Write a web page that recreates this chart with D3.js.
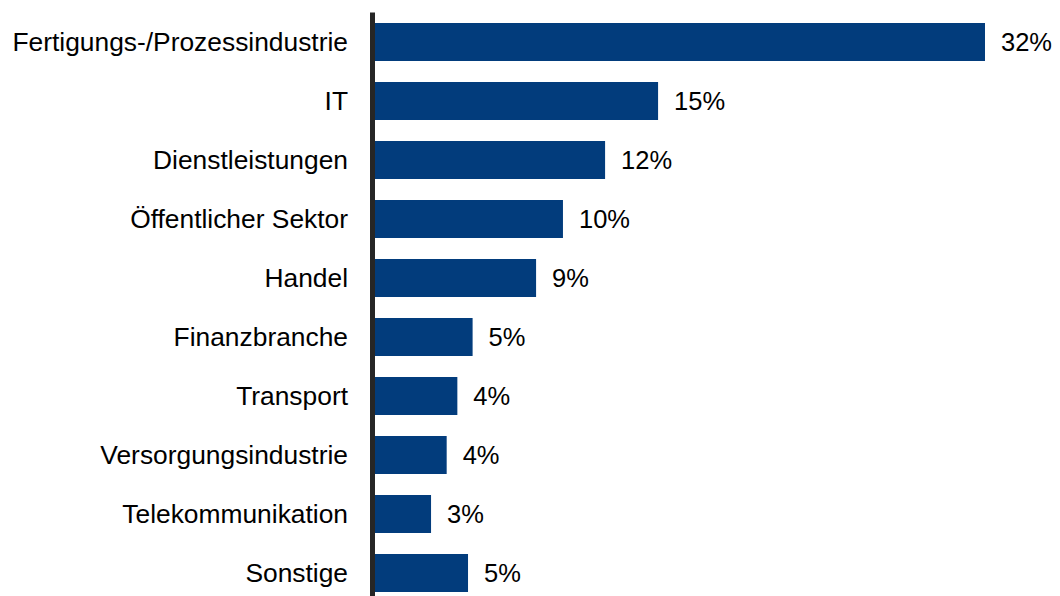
<!DOCTYPE html>
<html>
<head>
<meta charset="utf-8">
<script src="https://cdn.jsdelivr.net/npm/d3@7"></script>
<style>
  html, body { margin: 0; padding: 0; background: #ffffff; }
  svg { display: block; }
  text { font-family: "Liberation Sans", Arial, sans-serif; fill: #000; }
</style>
</head>
<body>
<div id="chart"></div>
<script>
const categories = ["Fertigungs-/Prozessindustrie", "IT", "Dienstleistungen", "Öffentlicher Sektor", "Handel", "Finanzbranche", "Transport", "Versorgungsindustrie", "Telekommunikation", "Sonstige"];
const values = [32.0, 14.85, 12.07, 9.86, 8.45, 5.12, 4.32, 3.76, 2.94, 4.88];
const valueLabels = ["32%", "15%", "12%", "10%", "9%", "5%", "4%", "4%", "3%", "5%"];

const W = 1060, H = 596;
const x0 = 375;
const svg = d3.select("#chart").append("svg").attr("width", W).attr("height", H);

const x = d3.scaleLinear().domain([0, 32]).range([x0, 985]);
const y = d3.scaleBand().domain(categories).range([12.5, 602.5]).paddingInner(0.356).paddingOuter(0.178);

svg.selectAll("rect.bar").data(categories).enter().append("rect")
  .attr("class", "bar")
  .attr("x", x(0))
  .attr("y", d => y(d))
  .attr("width", (d, i) => x(values[i]) - x(0))
  .attr("height", y.bandwidth())
  .attr("fill", "#023c7c");

svg.selectAll("text.val").data(categories).enter().append("text")
  .attr("class", "val")
  .attr("x", (d, i) => x(values[i]) + 16)
  .attr("y", d => y(d) + y.bandwidth() / 2)
  .attr("dy", "0.35em")
  .attr("font-size", 25.5)
  .text((d, i) => valueLabels[i]);

svg.selectAll("text.cat").data(categories).enter().append("text")
  .attr("class", "cat")
  .attr("transform", d => `translate(348,${y(d) + y.bandwidth() / 2}) scale(1.055,1)`)
  .attr("dy", "0.34em")
  .attr("text-anchor", "end")
  .attr("font-size", 25)
  .text(d => d);

svg.append("line")
  .attr("x1", 372.5).attr("x2", 372.5)
  .attr("y1", 12.5).attr("y2", H)
  .attr("stroke", "#262626")
  .attr("stroke-width", 5);
</script>
</body>
</html>
